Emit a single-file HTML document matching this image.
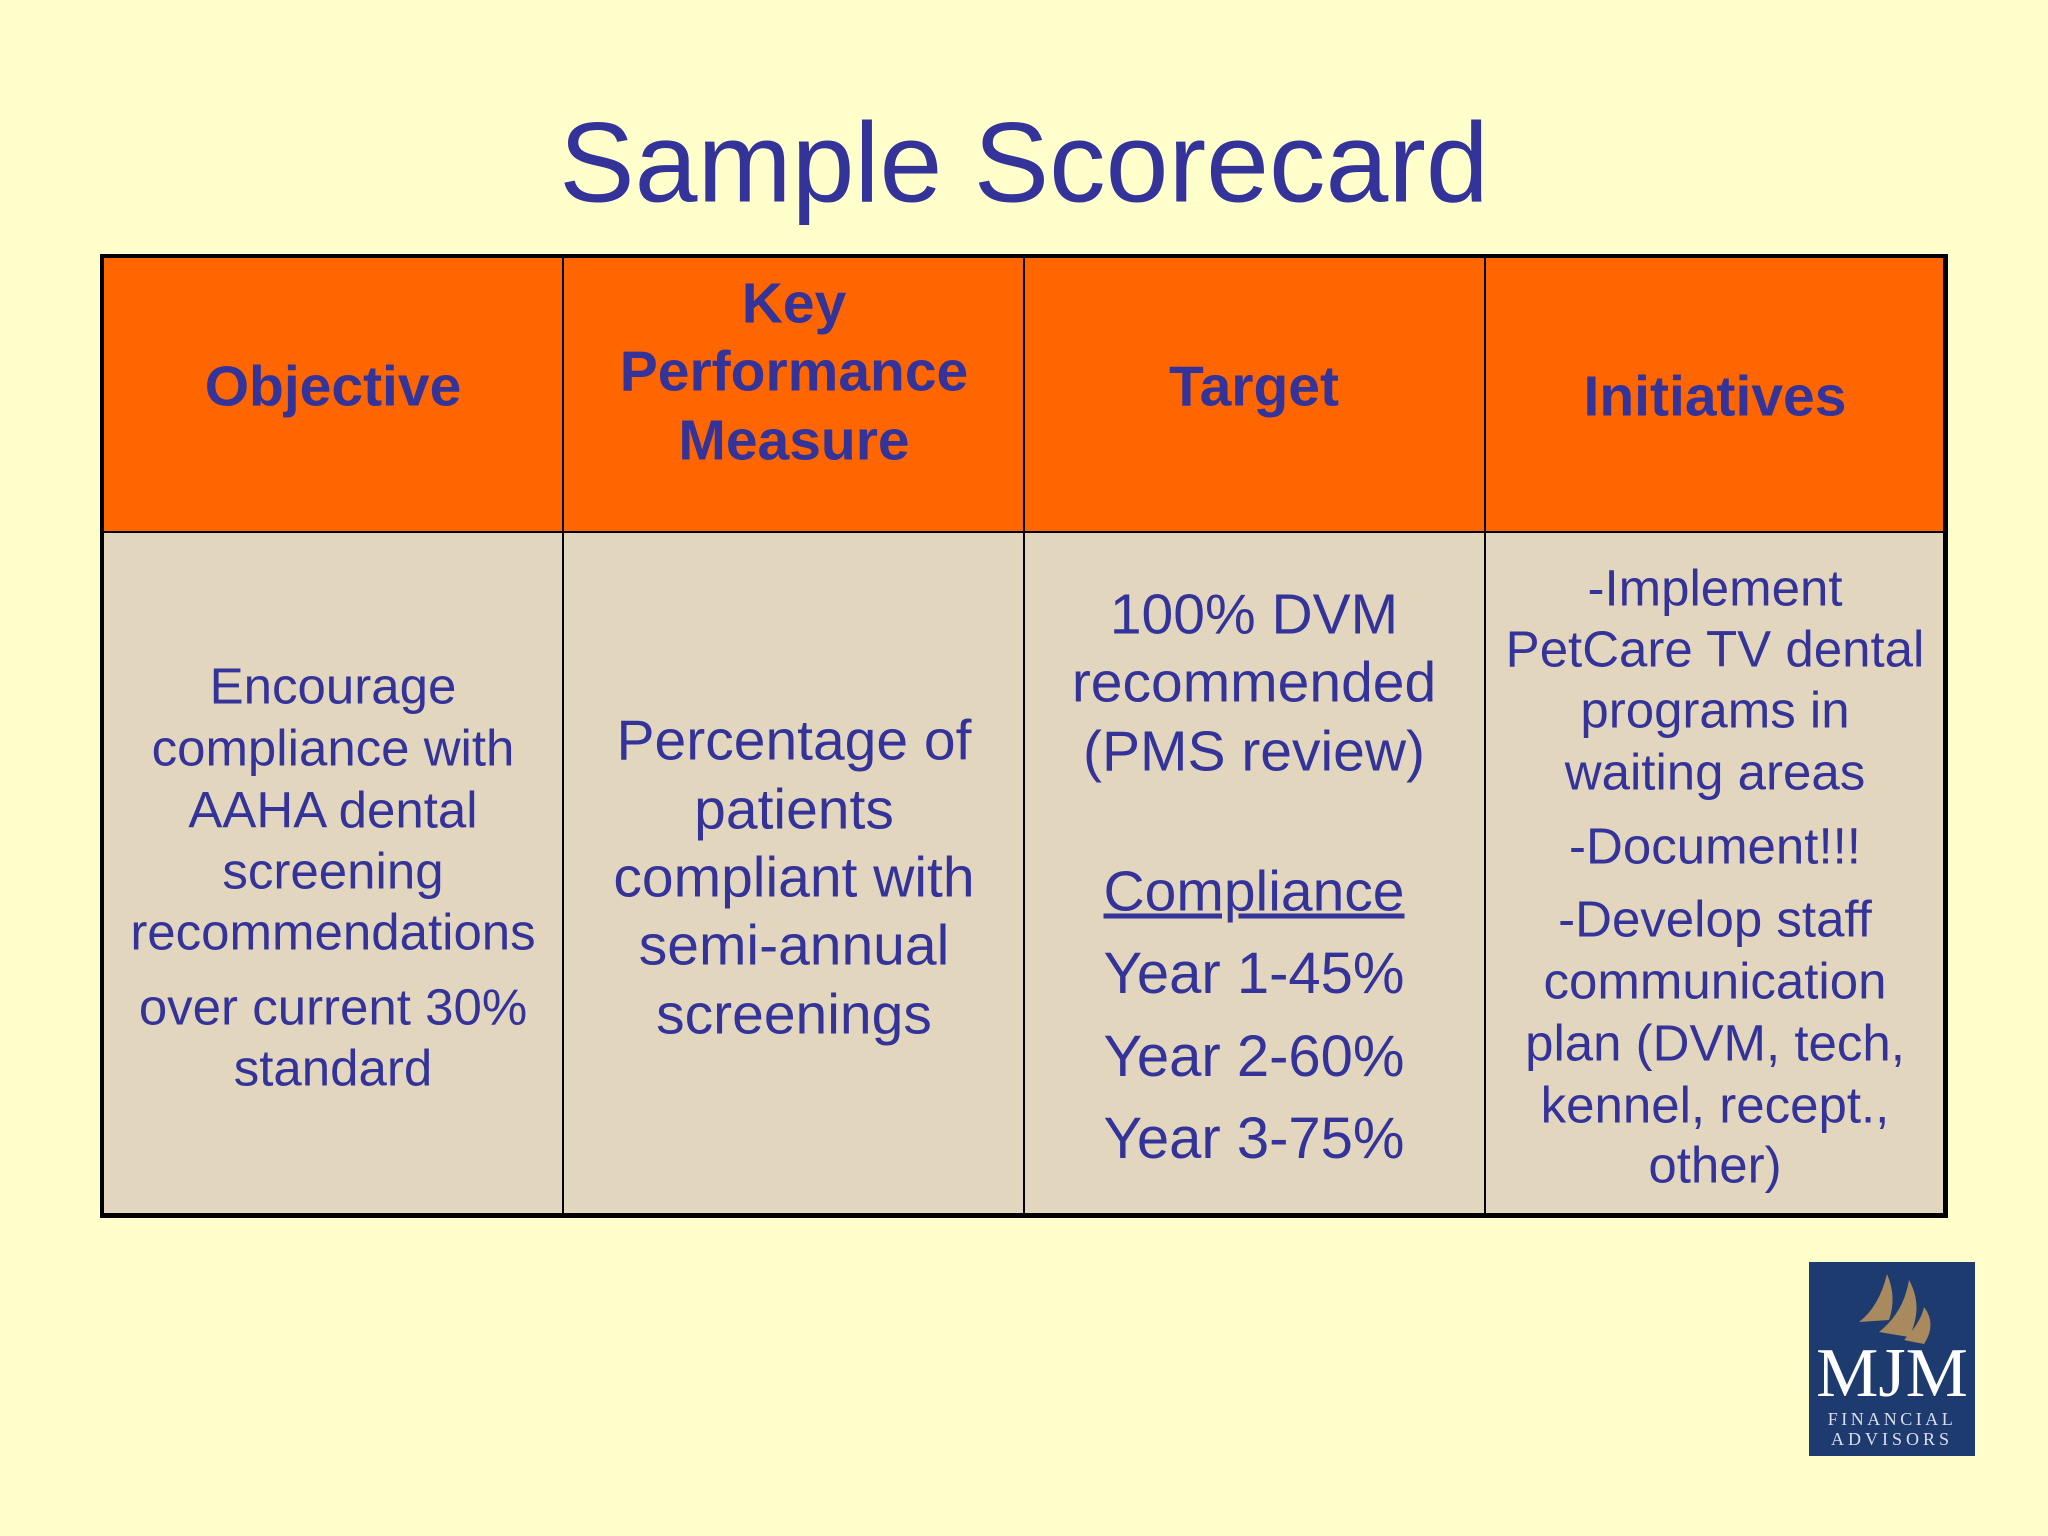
<!DOCTYPE html>
<html><head><meta charset="utf-8"><style>
body{margin:0;width:2048px;height:1536px;background:#FFFFCC;position:relative;overflow:hidden;font-family:"Liberation Sans",sans-serif;color:#333399}
.t{position:absolute;transform:translate(-50%,-50%);white-space:nowrap;line-height:1}
.c{position:absolute;box-sizing:border-box}
.h{font-weight:bold;font-size:57px}
.b1{font-size:51px}.b2{font-size:57px}
</style></head><body>
<div class="t" style="left:1024px;top:163px;font-size:113px">Sample Scorecard</div>
<div>
<div class="c" style="left:102px;top:256px;width:1844px;height:276px;background:#FF6600"></div>
<div class="c" style="left:102px;top:532px;width:1844px;height:684px;background:#E2D6BE"></div>
<div class="c" style="left:100px;top:254px;width:1848px;height:964px;border:4px solid #000;border-bottom-width:5px;border-right-width:5px"></div>
<div class="c" style="left:102px;top:531px;width:1844px;height:2px;background:#000"></div>
<div class="c" style="left:562px;top:256px;width:2px;height:960px;background:#000"></div>
<div class="c" style="left:1023px;top:256px;width:2px;height:960px;background:#000"></div>
<div class="c" style="left:1484px;top:256px;width:2px;height:960px;background:#000"></div>
</div>
<div class="t h" style="left:333px;top:387px">Objective</div>
<div class="t h" style="left:794px;top:304px">Key</div>
<div class="t h" style="left:794px;top:372px">Performance</div>
<div class="t h" style="left:794px;top:441px">Measure</div>
<div class="t h" style="left:1254px;top:387px">Target</div>
<div class="t h" style="left:1715px;top:397px">Initiatives</div>

<div class="t b1" style="left:333px;top:686px">Encourage</div>
<div class="t b1" style="left:333px;top:748px">compliance with</div>
<div class="t b1" style="left:333px;top:810px">AAHA dental</div>
<div class="t b1" style="left:333px;top:871px">screening</div>
<div class="t b1" style="left:333px;top:932px">recommendations</div>
<div class="t b1" style="left:333px;top:1007px">over current 30%</div>
<div class="t b1" style="left:333px;top:1068px">standard</div>

<div class="t b2" style="left:794px;top:741px">Percentage of</div>
<div class="t b2" style="left:794px;top:810px">patients</div>
<div class="t b2" style="left:794px;top:878px">compliant with</div>
<div class="t b2" style="left:794px;top:946px">semi-annual</div>
<div class="t b2" style="left:794px;top:1015px">screenings</div>

<div class="t b2" style="left:1254px;top:615px">100% DVM</div>
<div class="t b2" style="left:1254px;top:683px">recommended</div>
<div class="t b2" style="left:1254px;top:752px">(PMS review)</div>
<div class="t b2" style="left:1254px;top:892px;text-decoration:underline">Compliance</div>
<div class="t b2" style="left:1254px;top:974px;font-size:58px">Year 1-45%</div>
<div class="t b2" style="left:1254px;top:1057px;font-size:58px">Year 2-60%</div>
<div class="t b2" style="left:1254px;top:1139px;font-size:58px">Year 3-75%</div>

<div class="t b1" style="left:1715px;top:588px">-Implement</div>
<div class="t b1" style="left:1715px;top:649px">PetCare TV dental</div>
<div class="t b1" style="left:1715px;top:710px">programs in</div>
<div class="t b1" style="left:1715px;top:772px">waiting areas</div>
<div class="t b1" style="left:1715px;top:846px">-Document!!!</div>
<div class="t b1" style="left:1715px;top:919px">-Develop staff</div>
<div class="t b1" style="left:1715px;top:981px">communication</div>
<div class="t b1" style="left:1715px;top:1043px">plan (DVM, tech,</div>
<div class="t b1" style="left:1715px;top:1105px">kennel, recept.,</div>
<div class="t b1" style="left:1715px;top:1165px">other)</div>

<div class="c" style="left:1809px;top:1262px;width:166px;height:194px;background:#1E3B6F">
<svg width="166" height="194" style="position:absolute;left:0;top:0">
<path d="M50 60 Q70 45 78 12 Q88 35 80 58 Z" fill="#A98A5E"/>
<path d="M70 70 Q95 50 100 18 Q115 45 100 75 Z" fill="#A98A5E"/>
<path d="M95 78 Q112 60 115 45 Q128 62 115 82 Z" fill="#A98A5E"/>
</svg>
<div class="t" style="left:83px;top:112px;font-family:'Liberation Serif',serif;font-size:70px;color:#fff">MJM</div>
<div class="t" style="left:83px;top:157px;font-family:'Liberation Serif',serif;font-size:18px;letter-spacing:3.5px;color:#dde">FINANCIAL</div>
<div class="t" style="left:83px;top:177px;font-family:'Liberation Serif',serif;font-size:18px;letter-spacing:4px;color:#dde">ADVISORS</div>
</div>
</body></html>
